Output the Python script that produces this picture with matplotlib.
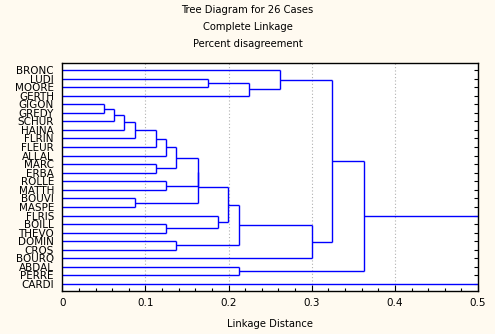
import matplotlib
matplotlib.use("Agg")
import matplotlib.pyplot as plt
from matplotlib.ticker import MultipleLocator

# leaf order, top to bottom
cases = ["BRONC", "LUDI", "MOORE", "GERTH", "GIGON", "GREDY", "SCHUR", "HAINA",
         "FLRIN", "FLEUR", "ALLAL", "MARC", "ERBA", "ROLLE", "MATTH", "BOUVI",
         "MASPE", "FLRIS", "BOILL", "THEVO", "DOMIN", "CROS", "BOURQ", "ABDAL",
         "PERRE", "CARDI"]

# merges: (left, right, linkage distance); ints refer to earlier merges
merge_left = ["LUDI", 0, "BRONC", "GIGON", 3, 4, 5, 6, 7, "MARC", 8, "ROLLE",
              "BOUVI", 10, 13, "BOILL", "FLRIS", 14, "DOMIN", 17, 19, 2,
              "ABDAL", 21, 23]
merge_right = ["MOORE", "GERTH", 1, "GREDY", "SCHUR", "HAINA", "FLRIN", "FLEUR",
               "ALLAL", "ERBA", 9, "MATTH", "MASPE", 11, 12, "THEVO", 15, 16,
               "CROS", 18, "BOURQ", 20, "PERRE", 22, "CARDI"]
merge_height = [0.1757, 0.2250, 0.2623, 0.0505, 0.0626, 0.0746, 0.0878, 0.1131,
                0.1252, 0.1131, 0.1372, 0.1252, 0.0878, 0.1629, 0.1629, 0.1252,
                0.1877, 0.1998, 0.1372, 0.2130, 0.3008, 0.3249, 0.2130, 0.3634,
                0.56]

x_ticks = [0, 0.1, 0.2, 0.3, 0.4, 0.5]
x_ticklabels = ["0", "0.1", "0.2", "0.3", "0.4", "0.5"]

line_color = "#0000ff"
bg = "#fffaf0"

fig = plt.figure(figsize=(4.95, 3.34), dpi=100)
fig.patch.set_facecolor(bg)
ax = fig.add_axes([0.1259, 0.1287, 0.8398, 0.6827])
ax.set_facecolor("white")

leaf_y = {name: i for i, name in enumerate(cases)}
node_y = []
node_h = []


def pos(child):
    if isinstance(child, str):
        return leaf_y[child], 0.0
    return node_y[child], node_h[child]


for left, right, h in zip(merge_left, merge_right, merge_height):
    yl, hl = pos(left)
    yr, hr = pos(right)
    ax.plot([hl, h], [yl, yl], color=line_color, lw=1.0, solid_capstyle="butt")
    ax.plot([hr, h], [yr, yr], color=line_color, lw=1.0, solid_capstyle="butt")
    ax.plot([h, h], [yl, yr], color=line_color, lw=1.0, solid_capstyle="butt")
    node_y.append((yl + yr) / 2)
    node_h.append(h)

ax.set_xlim(0, 0.5)
ax.set_ylim(len(cases) - 1 + 0.82, -0.82)

ax.set_yticks(range(len(cases)))
ax.set_yticklabels(cases, fontsize=7.5)
ax.tick_params(axis="y", left=False, right=True, direction="in", length=3,
               width=0.8, pad=6)
ax.set_xticks(x_ticks)
ax.set_xticklabels(x_ticklabels)
ax.xaxis.set_minor_locator(MultipleLocator(0.02))
ax.tick_params(axis="x", which="major", direction="in", length=4, width=0.8,
               labelsize=7.5, pad=5)
ax.tick_params(axis="x", which="minor", direction="in", length=2.5, width=0.8)
ax.grid(axis="x", which="major", color="#b0b0b0", linestyle=(0, (1, 2)), lw=0.8)
for s in ax.spines.values():
    s.set_linewidth(1.0)

ax.set_xlabel("Linkage Distance", fontsize=7.2, labelpad=8)

fig.text(0.5, 1 - 10 / 334, "Tree Diagram for 26 Cases", ha="center", va="center", fontsize=7.2)
fig.text(0.5, 1 - 27 / 334, "Complete Linkage", ha="center", va="center", fontsize=7.2)
fig.text(0.5, 1 - 44 / 334, "Percent disagreement", ha="center", va="center", fontsize=7.2)

fig.savefig("out.png", dpi=100, facecolor=bg)
